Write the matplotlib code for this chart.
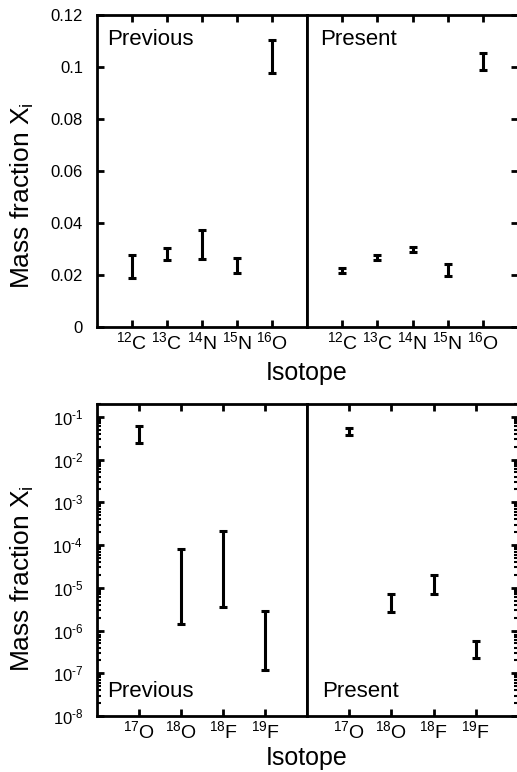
import numpy as np
import matplotlib
matplotlib.use("Agg")
import matplotlib.pyplot as plt
from matplotlib.ticker import LogLocator, NullFormatter, FixedLocator

plt.rcParams['font.family'] = ['Liberation Sans', 'DejaVu Sans']
plt.rcParams['mathtext.fontset'] = 'custom'
plt.rcParams['mathtext.rm'] = 'Liberation Sans'
plt.rcParams['mathtext.it'] = 'Liberation Sans:italic'
plt.rcParams['mathtext.default'] = 'regular'

# Data ##########################################################
light_labels = [r'$^{12}$C', r'$^{13}$C', r'$^{14}$N', r'$^{15}$N', r'$^{16}$O']
light_prev_lo = [0.0190, 0.0256, 0.0260, 0.0206, 0.0976]
light_prev_hi = [0.0275, 0.0302, 0.0374, 0.0267, 0.1105]
light_pres_lo = [0.0206, 0.0259, 0.0290, 0.0198, 0.0990]
light_pres_hi = [0.0225, 0.0275, 0.0306, 0.0244, 0.1055]

heavy_labels = [r'$^{17}$O', r'$^{18}$O', r'$^{18}$F', r'$^{19}$F']
heavy_prev_lo = [0.0240, 1.40e-6, 3.5e-6, 1.18e-7]
heavy_prev_hi = [0.0600, 8.0e-5, 2.1e-4, 2.9e-6]
heavy_pres_lo = [0.0385, 2.65e-6, 7.3e-6, 2.25e-7]
heavy_pres_hi = [0.0545, 7.2e-6, 2.0e-5, 5.7e-7]

lin_ticks = [0, 0.02, 0.04, 0.06, 0.08, 0.1, 0.12]
lin_tick_labels = ['0', '0.02', '0.04', '0.06', '0.08', '0.1', '0.12']
log_exps = [-8, -7, -6, -5, -4, -3, -2, -1]

# Figura ########################################################
W, H = 517, 772
fig = plt.figure(figsize=(W / 100, H / 100), dpi=100)


def box(x0, y0, x1, y1):
    # pixel coords (top-left origin) -> figure fraction
    return [x0 / W, 1 - y1 / H, (x1 - x0) / W, (y1 - y0) / H]


def draw_bars(ax, lo, hi):
    lo = np.array(lo)
    hi = np.array(hi)
    x = np.arange(1, len(lo) + 1)
    mid = (lo + hi) / 2
    ax.errorbar(x, mid, yerr=[mid - lo, hi - mid], fmt='none', ecolor='black',
                elinewidth=2.2, capsize=3, capthick=2.2)


def style(ax, labels, side):
    for s in ax.spines.values():
        s.set_linewidth(2)
    ax.set_xticks(np.arange(1, len(labels) + 1))
    ax.set_xticklabels(labels, fontsize=14)
    ax.set_xlim(0, len(labels) + 1)
    ax.tick_params(axis='x', which='both', direction='in', top=True, bottom=True,
                   length=5, width=2, pad=3)
    ax.tick_params(axis='y', which='major', direction='in', length=5, width=2,
                   left=(side == 'left'), right=(side == 'right'), labelsize=12, pad=10)
    ax.tick_params(axis='y', which='minor', direction='in', length=3, width=1.5,
                   left=(side == 'left'), right=(side == 'right'))
    if side == 'right':
        ax.tick_params(axis='y', labelleft=False)


# Top panels (linear)
ax1 = fig.add_axes(box(97, 15, 307, 327))
ax2 = fig.add_axes(box(307, 15, 518, 327))
draw_bars(ax1, light_prev_lo, light_prev_hi)
draw_bars(ax2, light_pres_lo, light_pres_hi)
for ax, side in [(ax1, 'left'), (ax2, 'right')]:
    ax.set_ylim(0, 0.12)
    ax.set_yticks(lin_ticks)
    ax.set_yticklabels(lin_tick_labels)
    style(ax, light_labels, side)
ax1.text(0.05, 0.92, 'Previous', transform=ax1.transAxes, fontsize=16, va='center')
ax2.text(0.06, 0.92, 'Present', transform=ax2.transAxes, fontsize=16, va='center')

# Bottom panels (log)
ax3 = fig.add_axes(box(97, 404, 307, 716))
ax4 = fig.add_axes(box(307, 404, 518, 716))
draw_bars(ax3, heavy_prev_lo, heavy_prev_hi)
draw_bars(ax4, heavy_pres_lo, heavy_pres_hi)
for ax, side in [(ax3, 'left'), (ax4, 'right')]:
    ax.set_yscale('log')
    ax.set_ylim(1e-8, 0.2)
    ax.yaxis.set_major_locator(FixedLocator([10.0 ** k for k in log_exps]))
    ax.yaxis.set_minor_locator(LogLocator(base=10, subs=np.arange(2, 10), numticks=20))
    ax.yaxis.set_minor_formatter(NullFormatter())
    style(ax, heavy_labels, side)
ax3.set_yticklabels(['10$^{\u2010%d}$' % -k for k in log_exps])
ax3.text(0.05, 0.08, 'Previous', transform=ax3.transAxes, fontsize=16, va='center')
ax4.text(0.07, 0.08, 'Present', transform=ax4.transAxes, fontsize=16, va='center')

# Rótulos dos eixos
fig.text(22 / W, 1 - 196 / H, r'Mass fraction X$_\mathrm{i}$', rotation=90,
         fontsize=19, ha='center', va='center')
fig.text(22 / W, 1 - 579 / H, r'Mass fraction X$_\mathrm{i}$', rotation=90,
         fontsize=19, ha='center', va='center')
fig.text(307 / W, 1 - 373 / H, 'Isotope', fontsize=18, ha='center', va='center')
fig.text(307 / W, 1 - 758 / H, 'Isotope', fontsize=18, ha='center', va='center')

fig.savefig('out.png', dpi=100)
